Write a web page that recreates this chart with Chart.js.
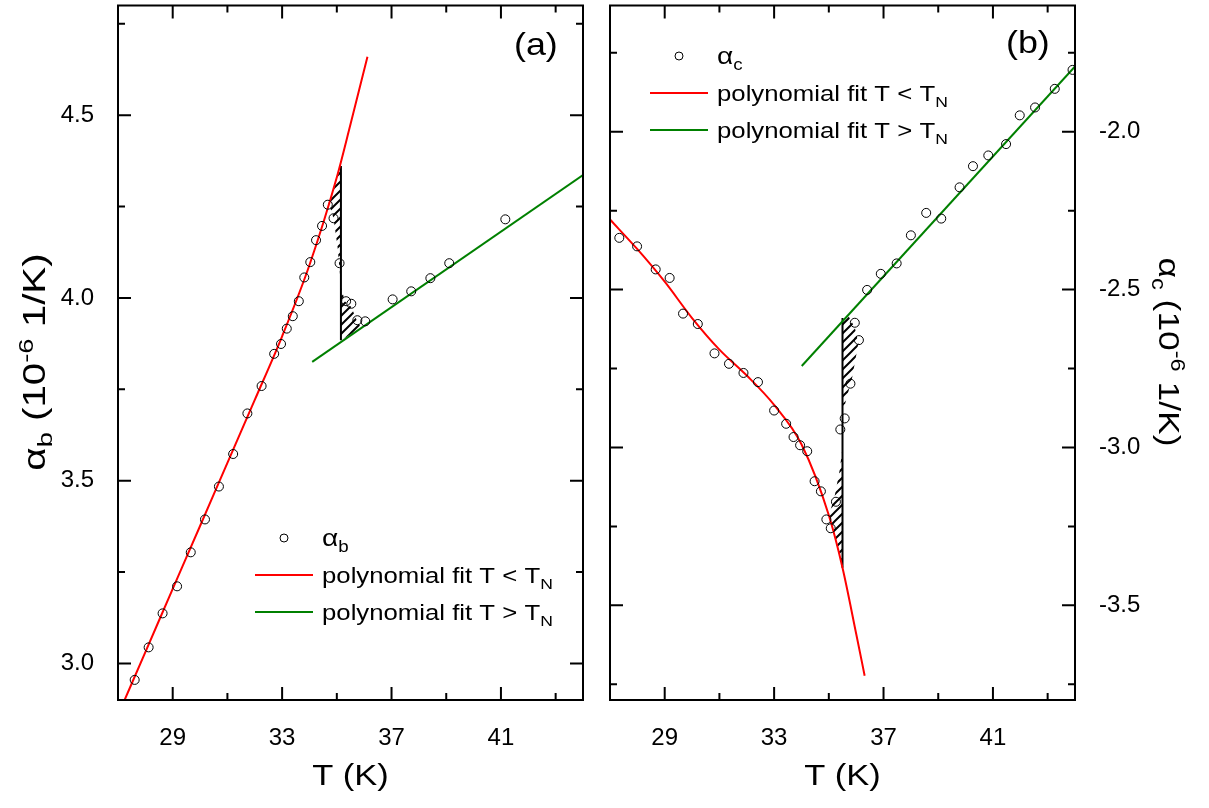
<!DOCTYPE html>
<html><head><meta charset="utf-8">
<script src="https://cdn.jsdelivr.net/npm/chart.js@4.4.1/dist/chart.umd.min.js"></script>
<style>
html,body{margin:0;padding:0;background:#fff;width:1209px;height:808px;overflow:hidden}
#ca{position:absolute;left:0;top:0}
#cb{position:absolute;left:600px;top:0}
</style></head><body>
<canvas id="ca" width="600" height="808"></canvas>
<canvas id="cb" width="609" height="808"></canvas>
<script>
// ---------- Panel (a): alpha_b ----------
const T_b = [27.61,28.12,28.63,29.16,29.66,30.18,30.69,31.21,31.73,32.25,32.71,32.96,33.17,33.39,33.61,33.81,34.03,34.24,34.46,34.67,34.88,35.10,35.34,35.53,35.75,36.04,37.04,37.72,38.42,39.11,41.16];
const alpha_b = [2.955,3.044,3.137,3.211,3.304,3.394,3.484,3.573,3.684,3.759,3.847,3.874,3.916,3.950,3.991,4.056,4.098,4.158,4.197,4.255,4.218,4.095,3.991,3.984,3.939,3.936,3.996,4.018,4.054,4.095,4.215];
const fitLowB_T = [27.2,28,29,30,31,32,33,34,35,35.5,36.12];
const fitLowB_v = [2.893,3.031,3.204,3.376,3.549,3.721,3.895,4.09,4.33,4.475,4.66];
const fitHighB_T = [34.1,44];
const fitHighB_v = [3.825,4.336];
const stepB_T = [35.15,35.15];
const stepB_v = [3.884,4.361];
const hatchB1_T = [35.15,34.70,34.88,35.03,35.12,35.15];
const hatchB1_v = [4.361,4.26,4.218,4.137,4.06,4.0];
const hatchB2_T = [35.15,35.15,35.3,35.53,35.75,35.9];
const hatchB2_v = [3.884,4.03,3.99,3.975,3.935,3.918];

// ---------- Panel (b): alpha_c ----------
const T_c = [27.34,27.99,28.67,29.18,29.67,30.21,30.82,31.35,31.88,32.41,33.0,33.44,33.71,33.95,34.21,34.48,34.71,34.91,35.07,35.26,35.42,35.58,35.79,35.95,36.1,36.4,36.9,37.48,38.0,38.56,39.11,39.78,40.27,40.83,41.48,41.98,42.54,43.26,43.91];
const alpha_c = [-2.336,-2.363,-2.436,-2.463,-2.576,-2.609,-2.702,-2.735,-2.764,-2.793,-2.883,-2.925,-2.967,-2.993,-3.012,-3.107,-3.139,-3.228,-3.256,-3.172,-2.943,-2.908,-2.798,-2.605,-2.66,-2.501,-2.45,-2.417,-2.328,-2.257,-2.275,-2.176,-2.109,-2.075,-2.039,-1.948,-1.923,-1.864,-1.804];
const fitLowC_T = [27.0,28.0,29.0,30.0,31.0,32.0,33.0,34.0,35.0,35.5,36.0,36.31];
const fitLowC_v = [-2.278,-2.372,-2.475,-2.59,-2.69,-2.772,-2.865,-2.99,-3.215,-3.381,-3.59,-3.723];
const fitHighC_T = [34.01,44];
const fitHighC_v = [-2.742,-1.793];
const stepC_T = [35.5,35.5];
const stepC_v = [-3.381,-2.59];
const hatchC1_T = [35.5,35.7,35.95,36.08,35.85,35.6,35.5];
const hatchC1_v = [-2.6,-2.581,-2.62,-2.67,-2.78,-2.86,-2.87];
const hatchC2_T = [35.5,35.2,35.0,35.2,35.4,35.5];
const hatchC2_v = [-3.381,-3.28,-3.215,-3.16,-3.07,-3.0];

// ---------- ticks ----------
const xTicks = [29,33,37,41];
const xMinor = [31,35,39,43];
const yTicksB = [3.0,3.5,4.0,4.5];
const yMinorB = [3.25,3.75,4.25,4.75];
const yTicksC = [-2.0,-2.5,-3.0,-3.5];
const yMinorC = [-1.75,-2.25,-2.75,-3.25,-3.75];

const FONT = '"Liberation Sans", Arial, sans-serif';
const RED = '#ff0000', GREEN = '#008000';

const pts = (xs, ys) => xs.map((x, i) => ({x, y: ys[i]}));

function hatchPattern() {
  const c = document.createElement('canvas');
  c.width = 9; c.height = 9;
  const g = c.getContext('2d');
  g.strokeStyle = '#000'; g.lineWidth = 2;
  g.beginPath();
  g.moveTo(0, 9); g.lineTo(9, 0);
  g.moveTo(-2, 2); g.lineTo(2, -2);
  g.moveTo(7, 11); g.lineTo(11, 7);
  g.stroke();
  return g.createPattern(c, 'repeat');
}

function rich(ctx, parts, x, y, opt) {
  opt = opt || {};
  const k = opt.k || 1;
  ctx.save();
  ctx.translate(x, y);
  if (opt.rot) ctx.rotate(opt.rot);
  ctx.scale(k, 1);
  ctx.fillStyle = '#000';
  ctx.textBaseline = 'alphabetic';
  ctx.textAlign = 'left';
  let total = 0;
  const ws = parts.map(p => { ctx.font = p[1] + 'px ' + FONT; const w = ctx.measureText(p[0]).width; total += w; return w; });
  let cx = opt.align === 'center' ? -total / 2 : 0;
  parts.forEach((p, i) => { ctx.font = p[1] + 'px ' + FONT; ctx.fillText(p[0], cx, p[2] || 0); cx += ws[i]; });
  ctx.restore();
}

function frameTicks(chart, yMaj, yMin) {
  const {ctx, chartArea: a, scales: {x, y}} = chart;
  ctx.save();
  ctx.strokeStyle = '#000'; ctx.lineWidth = 2;
  ctx.beginPath();
  const L = 13, S = 7;
  xTicks.forEach(v => { const p = x.getPixelForValue(v); ctx.moveTo(p, a.bottom); ctx.lineTo(p, a.bottom - L); ctx.moveTo(p, a.top); ctx.lineTo(p, a.top + L); });
  xMinor.forEach(v => { const p = x.getPixelForValue(v); ctx.moveTo(p, a.bottom); ctx.lineTo(p, a.bottom - S); ctx.moveTo(p, a.top); ctx.lineTo(p, a.top + S); });
  yMaj.forEach(v => { const p = y.getPixelForValue(v); ctx.moveTo(a.left, p); ctx.lineTo(a.left + L, p); ctx.moveTo(a.right, p); ctx.lineTo(a.right - L, p); });
  yMin.forEach(v => { const p = y.getPixelForValue(v); ctx.moveTo(a.left, p); ctx.lineTo(a.left + S, p); ctx.moveTo(a.right, p); ctx.lineTo(a.right - S, p); });
  ctx.stroke();
  ctx.strokeRect(a.left, a.top, a.right - a.left, a.bottom - a.top);
  ctx.restore();
}

function legend(ctx, x0, yTop, sub) {
  ctx.save();
  ctx.strokeStyle = '#000'; ctx.lineWidth = 1;
  ctx.beginPath(); ctx.arc(x0 + 29, yTop, 4, 0, Math.PI * 2); ctx.stroke();
  ctx.lineWidth = 2;
  ctx.strokeStyle = RED; ctx.beginPath(); ctx.moveTo(x0, yTop + 37); ctx.lineTo(x0 + 58, yTop + 37); ctx.stroke();
  ctx.strokeStyle = GREEN; ctx.beginPath(); ctx.moveTo(x0, yTop + 74); ctx.lineTo(x0 + 58, yTop + 74); ctx.stroke();
  ctx.restore();
  const tx = x0 + 67, k = 1.17;
  rich(ctx, [['α', 24], [sub, 16, 6]], tx, yTop + 8, {k});
  rich(ctx, [['polynomial fit T < T', 22], ['N', 15, 6]], tx, yTop + 45, {k});
  rich(ctx, [['polynomial fit T > T', 22], ['N', 15, 6]], tx, yTop + 82, {k});
}

function baseOptions(yMin, yMax, yTickVals, yPos, yWidth, pad) {
  return {
    responsive: false, animation: false, devicePixelRatio: 1,
    layout: {padding: pad},
    plugins: {legend: {display: false}, tooltip: {enabled: false}},
    scales: {
      x: {
        type: 'linear', position: 'bottom', min: 27, max: 44,
        grid: {display: false}, border: {display: false},
        afterBuildTicks: s => { s.ticks = xTicks.map(v => ({value: v})); },
        afterFit: s => { s.height = 108; s.paddingLeft = 0; s.paddingRight = 0; },
        ticks: {color: '#000', font: {family: FONT, size: 24}, padding: 16, maxRotation: 0, autoSkip: false, callback: v => String(v)}
      },
      y: {
        type: 'linear', position: yPos, min: yMin, max: yMax,
        grid: {display: false}, border: {display: false},
        afterBuildTicks: s => { s.ticks = yTickVals.map(v => ({value: v})); },
        afterFit: s => { s.width = yWidth; s.paddingTop = 0; s.paddingBottom = 0; },
        ticks: {color: '#000', font: {family: FONT, size: 24}, padding: 16, autoSkip: false, callback: v => v.toFixed(1)}
      }
    }
  };
}

function datasets(T, A, fl, fh, st, h1, h2, pat) {
  return [
    {data: pts(T, A), showLine: false, pointRadius: 4.5, pointBorderWidth: 1, pointBorderColor: '#000', pointBackgroundColor: 'rgba(0,0,0,0)', order: 0},
    {data: fl, borderColor: RED, borderWidth: 2, pointRadius: 0, fill: false, cubicInterpolationMode: 'monotone', order: 1},
    {data: fh, borderColor: GREEN, borderWidth: 2, pointRadius: 0, fill: false, order: 2},
    {data: st, borderColor: '#000', borderWidth: 2, pointRadius: 0, fill: false, order: 3},
    {data: h1, borderWidth: 0, borderColor: 'rgba(0,0,0,0)', backgroundColor: pat, pointRadius: 0, fill: 'shape', order: 4},
    {data: h2, borderWidth: 0, borderColor: 'rgba(0,0,0,0)', backgroundColor: pat, pointRadius: 0, fill: 'shape', order: 5}
  ];
}

const pat = hatchPattern();

new Chart(document.getElementById('ca'), {
  type: 'line',
  data: {datasets: datasets(T_b, alpha_b, pts(fitLowB_T, fitLowB_v), pts(fitHighB_T, fitHighB_v), pts(stepB_T, stepB_v), pts(hatchB1_T, hatchB1_v), pts(hatchB2_T, hatchB2_v), pat)},
  options: baseOptions(2.9, 4.8, yTicksB, 'left', 118, {left: 0, right: 17, top: 3, bottom: 0}),
  plugins: [{
    id: 'decorA',
    afterDraw(chart) {
      const ctx = chart.ctx, a = chart.chartArea;
      frameTicks(chart, yTicksB, yMinorB);
      legend(ctx, 255, 538, 'b');
      rich(ctx, [['(a)', 32]], 514, 55, {k: 1.12});
      rich(ctx, [['T (K)', 30]], (a.left + a.right) / 2, 785, {align: 'center', k: 1.15});
      rich(ctx, [['α', 31], ['b', 21, 7], [' (10', 31], ['-6', 21, -12], [' 1/K)', 31]], 45, 362, {align: 'center', rot: -Math.PI / 2, k: 1.3});
    }
  }]
});

new Chart(document.getElementById('cb'), {
  type: 'line',
  data: {datasets: datasets(T_c, alpha_c, pts(fitLowC_T, fitLowC_v), pts(fitHighC_T, fitHighC_v), pts(stepC_T, stepC_v), pts(hatchC1_T, hatchC1_v), pts(hatchC2_T, hatchC2_v), pat)},
  options: baseOptions(-3.8, -1.6, yTicksC, 'right', 134, {left: 10, right: 0, top: 4, bottom: 0}),
  plugins: [{
    id: 'decorB',
    afterDraw(chart) {
      const ctx = chart.ctx, a = chart.chartArea;
      frameTicks(chart, yTicksC, yMinorC);
      legend(ctx, 50, 56, 'c');
      rich(ctx, [['(b)', 32]], 406, 53, {k: 1.12});
      rich(ctx, [['T (K)', 30]], (a.left + a.right) / 2, 785, {align: 'center', k: 1.15});
      rich(ctx, [['α', 30], ['c', 20, 7], [' (10', 30], ['-6', 20, -12], [' 1/K)', 30]], 559, 352, {align: 'center', rot: Math.PI / 2, k: 1.18});
    }
  }]
});
</script>
</body></html>
